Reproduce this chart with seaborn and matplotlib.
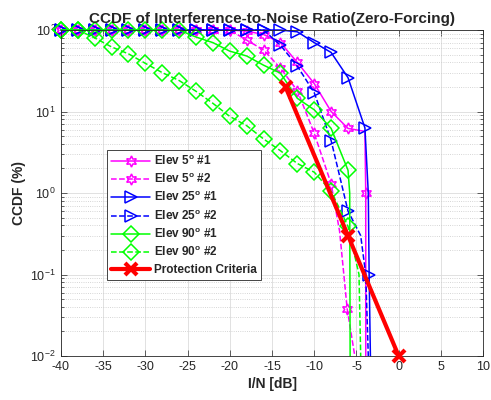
import matplotlib
matplotlib.use('Agg')
import matplotlib.pyplot as plt
import seaborn as sns
import numpy as np

# Data
e5_1_x = [-40, -38, -36, -34, -32, -30, -28, -26, -24, -22, -20, -18, -16, -14, -12, -10, -8, -6, -4.0, -3.9, -3.9]
e5_1_y = [100, 100, 100, 100, 100, 100, 100, 100, 100, 100, 100, 97, 88, 70, 40, 22, 10, 6.2, 5.7, 1.0, 0.01]

e5_2_x = [-40, -38, -36, -34, -32, -30, -28, -26, -24, -22, -20, -18, -16, -14, -12, -10, -8, -7.0, -6.1, -5.2]
e5_2_y = [100, 100, 100, 100, 100, 100, 100, 100, 100, 100, 100, 75, 57, 34, 18, 5.4, 1.3, 0.34, 0.038, 0.01]

e25_1_x = [-40, -38, -36, -34, -32, -30, -28, -26, -24, -22, -20, -18, -16, -14, -12, -10, -8, -6, -4, -3.6, -3.5, -3.35]
e25_1_y = [100, 100, 100, 100, 100, 100, 100, 100, 100, 100, 100, 100, 100, 100, 95, 70, 53, 26, 6.3, 1.0, 0.1, 0.01]

e25_2_x = [-40, -38, -36, -34, -32, -30, -28, -26, -24, -22, -20, -18, -16, -14, -12, -10, -8, -6, -4.5, -3.9, -3.6]
e25_2_y = [100, 100, 100, 100, 100, 100, 100, 100, 100, 100, 100, 100, 100, 65, 36, 17, 4.4, 0.6, 0.3, 0.1, 0.01]

e90_1_x = [-40, -38, -36, -34, -32, -30, -28, -26, -24, -22, -20, -18, -16, -14, -12, -10, -8, -6, -5.8, -5.75]
e90_1_y = [100, 100, 100, 100, 100, 100, 100, 100, 82, 70, 55, 48, 37, 29.5, 14.5, 10.5, 6.2, 1.9, 1.0, 0.01]

e90_2_x = [-40, -38, -36, -34, -32, -30, -28, -26, -24, -22, -20, -18, -16, -14, -12, -10, -8, -6, -4.7, -4.5]
e90_2_y = [100, 100, 80, 62, 51, 39, 30, 24, 17.7, 12.6, 8.7, 6.7, 4.6, 3.3, 2.3, 1.8, 1.05, 0.39, 0.1, 0.01]

pc_x = [-13.4, -6, 0]
pc_y = [20, 0.3, 0.01]

labels = [r'Elev 5$^{\mathbf{o}}$ #1', r'Elev 5$^{\mathbf{o}}$ #2',
          r'Elev 25$^{\mathbf{o}}$ #1', r'Elev 25$^{\mathbf{o}}$ #2',
          r'Elev 90$^{\mathbf{o}}$ #1', r'Elev 90$^{\mathbf{o}}$ #2',
          'Protection Criteria']

sns.set_theme(style='ticks')
plt.rcParams['font.family'] = ['Liberation Sans', 'DejaVu Sans']
plt.rcParams['mathtext.fontset'] = 'custom'
plt.rcParams['mathtext.rm'] = 'Liberation Sans'
plt.rcParams['mathtext.it'] = 'Liberation Sans'
plt.rcParams['mathtext.bf'] = 'Liberation Sans:bold'
plt.rcParams['axes.unicode_minus'] = False

fig = plt.figure(figsize=(4.91, 4.0), dpi=100)
ax = fig.add_axes([0.124, 0.11, 0.86, 0.815])

hexagram = (6, 1, 0)
series = [
    (e5_1_x, e5_1_y, '#ff00ff', '-', hexagram, list(range(18)) + [19]),
    (e5_2_x, e5_2_y, '#ff00ff', '--', hexagram, list(range(17)) + [18]),
    (e25_1_x, e25_1_y, '#0000ff', '-', '>', list(range(19)) + [20]),
    (e25_2_x, e25_2_y, '#0000ff', '--', '>', list(range(18))),
    (e90_1_x, e90_1_y, '#00ff00', '-', 'D', list(range(18))),
    (e90_2_x, e90_2_y, '#00ff00', '--', 'D', list(range(18))),
]

for (x, y, c, ls, mk, every), lab in zip(series, labels):
    sns.lineplot(x=x, y=y, ax=ax, sort=False, estimator=None, color=c,
                 linestyle=ls, linewidth=1.1, marker=mk, markersize=8,
                 markerfacecolor='none', markeredgecolor=c, markeredgewidth=1.1,
                 markevery=every, label=lab, clip_on=False)

sns.lineplot(x=pc_x, y=pc_y, ax=ax, sort=False, estimator=None, color='#ff0000',
             linewidth=3, marker='x', markersize=8, markeredgewidth=3,
             markeredgecolor='#ff0000', label=labels[-1], clip_on=False, zorder=5)

ax.set_yscale('log')
ax.set_xlim(-40, 10)
ax.set_ylim(0.01, 100)
ax.set_xticks(np.arange(-40, 11, 5))

ax.grid(which='major', color='#dcdcdc', linewidth=0.6, linestyle='-')
ax.grid(which='minor', axis='y', color='#c8c8c8', linewidth=0.6, linestyle=':')
ax.set_axisbelow(True)

axis_col = '#262626'
for sp in ax.spines.values():
    sp.set_color(axis_col)
    sp.set_linewidth(0.6)
ax.tick_params(which='both', direction='in', top=True, right=True,
               colors=axis_col, labelsize=9, width=0.5)
ax.tick_params(which='major', length=4)
ax.tick_params(which='minor', length=2)
ax.tick_params(axis='x', which='minor', bottom=False, top=False)

ax.set_title('CCDF of Interference-to-Noise Ratio(Zero-Forcing)',
             fontsize=11, fontweight='bold', pad=5)
ax.set_xlabel('I/N [dB]', fontsize=10, fontweight='bold', labelpad=3)
ax.set_ylabel('CCDF (%)', fontsize=10, fontweight='bold', labelpad=3)

leg = ax.legend(loc='upper left', bbox_to_anchor=(0.109, 0.632), borderaxespad=0,
                fancybox=False, framealpha=1, edgecolor=axis_col,
                prop={'weight': 'bold', 'size': 8.5}, handlelength=3.3,
                labelspacing=0.38, borderpad=0.35, handletextpad=0.3)
leg.get_frame().set_linewidth(0.6)

fig.savefig('out.png', dpi=100)
